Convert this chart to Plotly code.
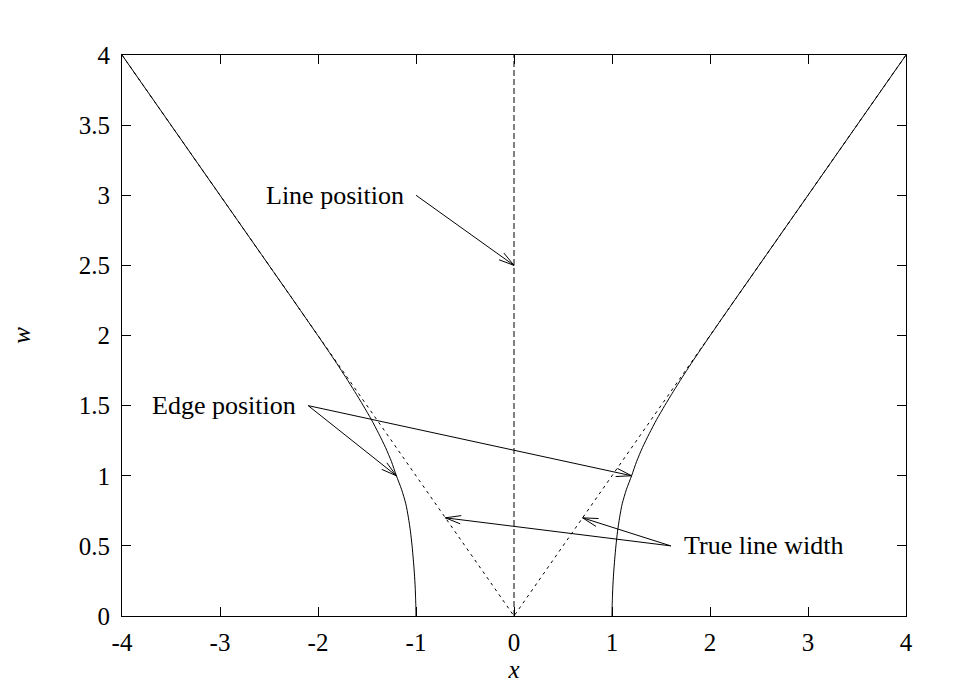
import math
import plotly.graph_objects as go

# ---- data ----
# Edge position curve (right branch; left branch is its mirror)
edge_w = [0.0, 0.05, 0.1, 0.2, 0.3, 0.4, 0.5, 0.6, 0.7, 0.8, 0.9, 1.0, 1.1, 1.2, 1.3,
          1.4, 1.5, 1.6, 1.7, 1.8, 1.9, 2.0, 2.2, 3.0, 4.0]
edge_x = [1.0, 1.001, 1.003, 1.008, 1.016, 1.027, 1.04, 1.056, 1.077, 1.104, 1.146,
          1.20, 1.25, 1.31, 1.38, 1.455, 1.538, 1.625, 1.715, 1.808, 1.904, 2.002,
          2.2, 3.0, 4.0]

# True line width (dotted V)
width_x = [-4.0, 0.0, 4.0]
width_w = [4.0, 0.0, 4.0]

# Line position (dashed vertical)
linepos_x = [0.0, 0.0]
linepos_w = [0.0, 4.0]

x_ticks = [-4, -3, -2, -1, 0, 1, 2, 3, 4]
y_ticks = [0, 0.5, 1, 1.5, 2, 2.5, 3, 3.5, 4]
y_ticktext = ["0", "0.5", "1", "1.5", "2", "2.5", "3", "3.5", "4"]

# labels: text, x, y, anchor
label_text = ["Line position", "Edge position", "True line width"]
label_x = [-1.1, -2.2, 1.71]
label_y = [3.0, 1.5, 0.5]
label_anchor = ["right", "right", "left"]

# arrows: tail (x, y) -> head (x, y)
arrow_tail_x = [-1.0, -2.1, -2.1, 1.6, 1.6]
arrow_tail_y = [3.0, 1.5, 1.5, 0.5, 0.5]
arrow_head_x = [0.0, -1.2, 1.2, -0.7, 0.7]
arrow_head_y = [2.5, 1.0, 1.0, 0.7, 0.7]

# ---- layout geometry (page body adds an 8px offset) ----
W, H = 957, 696
ML, MR, MT, MB = 114, 59, 47, 88
XR = [-4, 4]
YR = [0, 4]
sx = (W - ML - MR) / (XR[1] - XR[0])
sy = (H - MT - MB) / (YR[1] - YR[0])

FONT = "Liberation Serif, Times New Roman, serif"

fig = go.Figure()

fig.add_trace(go.Scatter(x=width_x, y=width_w, mode="lines",
                         line=dict(color="black", width=1, dash="3px,4px"),
                         showlegend=False, hoverinfo="skip"))
fig.add_trace(go.Scatter(x=linepos_x, y=linepos_w, mode="lines",
                         line=dict(color="black", width=1, dash="6px,3px"),
                         showlegend=False, hoverinfo="skip"))
fig.add_trace(go.Scatter(x=[-v for v in edge_x], y=edge_w, mode="lines",
                         line=dict(color="black", width=1, shape="spline", smoothing=0.6),
                         showlegend=False, hoverinfo="skip"))
fig.add_trace(go.Scatter(x=edge_x, y=edge_w, mode="lines",
                         line=dict(color="black", width=1, shape="spline", smoothing=0.6),
                         showlegend=False, hoverinfo="skip"))

shapes = []
HEAD_LEN = 16
HEAD_ANG = math.radians(15)
for tx, ty, hx, hy in zip(arrow_tail_x, arrow_tail_y, arrow_head_x, arrow_head_y):
    shapes.append(dict(type="line", xref="x", yref="y", x0=tx, y0=ty, x1=hx, y1=hy,
                       line=dict(color="black", width=1)))
    dxp = (hx - tx) * sx
    dyp = (hy - ty) * sy
    ang = math.atan2(dyp, dxp)
    for s in (1, -1):
        a = ang + math.pi + s * HEAD_ANG
        ex = hx + HEAD_LEN * math.cos(a) / sx
        ey = hy + HEAD_LEN * math.sin(a) / sy
        shapes.append(dict(type="line", xref="x", yref="y", x0=hx, y0=hy, x1=ex, y1=ey,
                           line=dict(color="black", width=1)))

annotations = []
for t, x, y, anc in zip(label_text, label_x, label_y, label_anchor):
    annotations.append(dict(text=t, x=x, y=y, xref="x", yref="y", showarrow=False,
                            xanchor=anc, yanchor="middle",
                            font=dict(family=FONT, size=26, color="black")))

axis_common = dict(showline=True, linecolor="black", linewidth=1, mirror="allticks",
                   ticks="inside", ticklen=9, tickcolor="black", tickwidth=1,
                   showgrid=False, zeroline=False, automargin=False,
                   tickfont=dict(family=FONT, size=25, color="black"))

fig.update_layout(
    width=W, height=H,
    margin=dict(l=ML, r=MR, t=MT, b=MB, pad=0),
    paper_bgcolor="white", plot_bgcolor="white",
    shapes=shapes, annotations=annotations,
    xaxis=dict(range=XR, tickvals=x_ticks, ticktext=[str(v) for v in x_ticks],
               ticklabelstandoff=4,
               title=dict(text="<i>x</i>", font=dict(family=FONT, size=25, color="black"),
                          standoff=0),
               **axis_common),
    yaxis=dict(range=YR, tickvals=y_ticks, ticktext=y_ticktext,
               ticklabelstandoff=6,
               title=dict(text="<i>w</i>", font=dict(family=FONT, size=25, color="black"),
                          standoff=47),
               **axis_common),
)

fig.write_html("out.html")
